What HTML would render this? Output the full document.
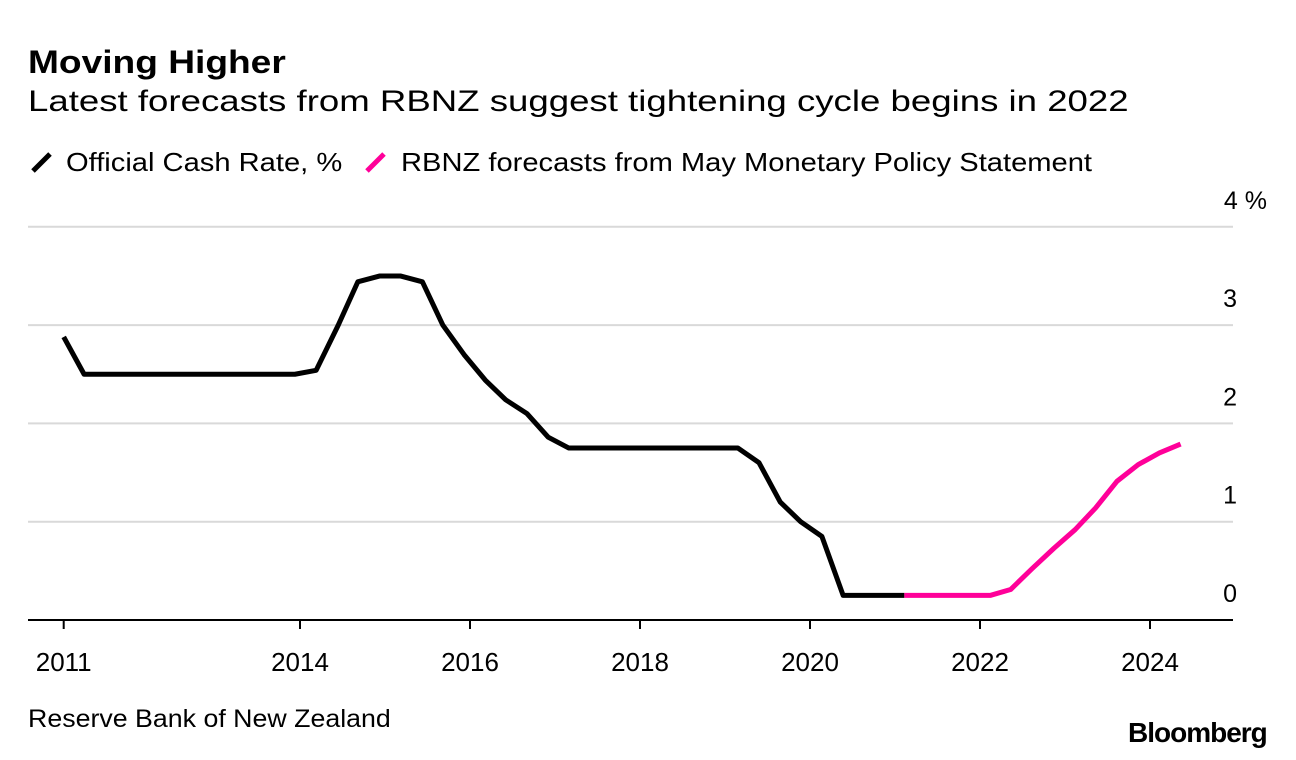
<!DOCTYPE html>
<html><head><meta charset="utf-8"><style>
body{margin:0;background:#fff;font-family:"Liberation Sans",Arial,sans-serif;}
#wrap{position:relative;width:1296px;height:760px;overflow:hidden;}
.t{position:absolute;white-space:nowrap;color:#000;transform-origin:0 0;}
</style></head><body>
<div id="wrap">
<div class="t" style="left:28px;top:44px;font-size:32px;font-weight:bold;transform:scaleX(1.16);">Moving Higher</div>
<div class="t" style="left:28px;top:85px;font-size:30px;transform:scaleX(1.22);">Latest forecasts from RBNZ suggest tightening cycle begins in 2022</div>
<div class="t" style="left:28px;top:147px;font-size:26px;"><svg width="38" height="26" style="vertical-align:-4px"><line x1="5" y1="22" x2="22" y2="5" stroke="#000" stroke-width="5"/></svg><span style="display:inline-block;transform:scaleX(1.12);transform-origin:0 0;">Official Cash Rate, %</span></div>
<div class="t" style="left:362px;top:147px;font-size:26px;"><svg width="39" height="26" style="vertical-align:-4px"><line x1="5" y1="22" x2="22" y2="5" stroke="#ff0099" stroke-width="5"/></svg><span style="display:inline-block;transform:scaleX(1.12);transform-origin:0 0;">RBNZ forecasts from May Monetary Policy Statement</span></div>
<svg id="chart" width="1296" height="760" style="position:absolute;left:0;top:0"></svg>
<div class="t" style="left:28px;top:705px;font-size:25px;transform:scaleX(1.07);">Reserve Bank of New Zealand</div>
<div class="t" style="left:1128px;top:717px;font-size:28px;font-weight:bold;letter-spacing:-1px;">Bloomberg</div>
</div>
<script>
const ocrDates=[2011.22,2011.46,2013.94,2014.19,2014.45,2014.68,2014.94,2015.18,2015.44,2015.68,2015.93,2016.18,2016.42,2016.67,2016.92,2017.16,2019.15,2019.40,2019.65,2019.89,2020.14,2020.39,2021.11];
const ocrValues=[2.88,2.5,2.5,2.54,3.0,3.44,3.5,3.5,3.44,3.0,2.7,2.44,2.24,2.1,1.86,1.75,1.75,1.6,1.2,1.0,0.85,0.25,0.25];
const fcDates=[2021.11,2022.12,2022.36,2022.61,2022.87,2023.12,2023.36,2023.61,2023.86,2024.11,2024.36];
const fcValues=[0.25,0.25,0.31,0.52,0.73,0.92,1.14,1.41,1.58,1.70,1.79];
const yTicks=[0,1,2,3,4];
const yTickLabels=["0","1","2","3","4 %"];
const xTicks=[2011.22,2014,2016,2018,2020,2022,2024];
const xTickLabels=["2011","2014","2016","2018","2020","2022","2024"];

const NS="http://www.w3.org/2000/svg";
const svg=document.getElementById('chart');
const xS=t=>470+(t-2016)*85;
const yS=v=>620-v*98.3;
function mk(tag,attrs){const e=document.createElementNS(NS,tag);for(const k in attrs)e.setAttribute(k,attrs[k]);svg.appendChild(e);return e;}
yTicks.forEach((v,i)=>{
  if(v>0){const g=mk('line',{x1:28,x2:1233,y1:yS(v),y2:yS(v),stroke:'#d9d9d9','stroke-width':2});
  
  }
  const t=mk('text',{x:1237,y:yS(v)-18,'text-anchor':'end','font-size':25,'font-family':'Liberation Sans, Arial, sans-serif'});
  if(i===yTicks.length-1)t.setAttribute('x',1267);
  t.textContent=yTickLabels[i];
  
  
});
const ax=mk('line',{x1:28,x2:1233,y1:620,y2:620,stroke:'#000','stroke-width':2});


xTicks.forEach((t,i)=>{
  const tk=mk('line',{x1:xS(t),x2:xS(t),y1:620,y2:629,stroke:'#000','stroke-width':2});
  
  
  const lb=mk('text',{x:xS(t),y:671,'text-anchor':'middle','font-size':26,'font-family':'Liberation Sans, Arial, sans-serif'});
  lb.textContent=xTickLabels[i];
  
  
});
function line(d,v,c,name){
  const p=mk('polyline',{points:d.map((t,i)=>xS(t)+','+yS(v[i])).join(' '),fill:'none',stroke:c,'stroke-width':5,'stroke-linejoin':'round'});
  
  
}
line(ocrDates,ocrValues,'#000','ocr-line');
line(fcDates,fcValues,'#ff0099','forecast-line');
</script>
</body></html>
